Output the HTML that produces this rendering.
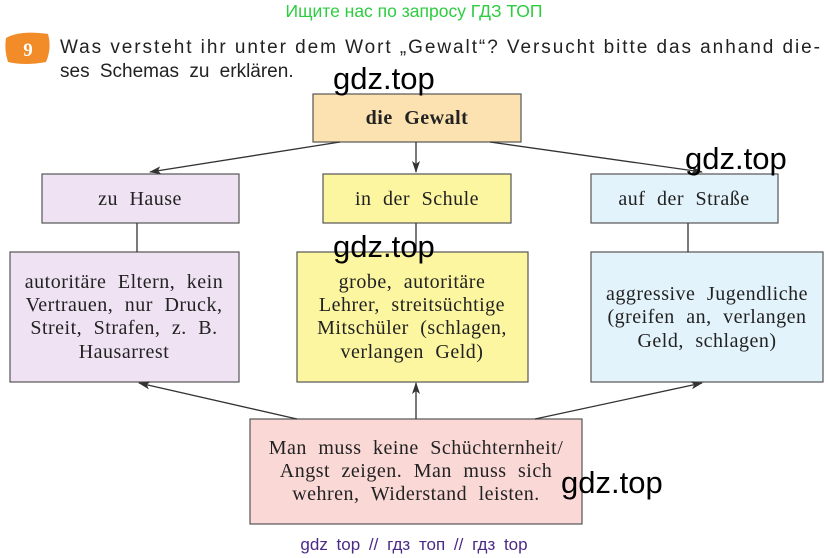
<!DOCTYPE html>
<html><head><meta charset="utf-8"><style>
body{margin:0;background:#fff;width:828px;height:558px;overflow:hidden}
svg{display:block}
.s{font-family:"Liberation Serif",serif;font-size:20px;fill:#222}
.a{font-family:"Liberation Sans",sans-serif;font-size:19px;fill:#222}
.w{font-family:"Liberation Sans",sans-serif;font-size:31px;fill:#000}
</style></head><body>
<svg width="828" height="558" viewBox="0 0 828 558">
<defs><marker id="m" markerWidth="12" markerHeight="8" refX="11" refY="4" orient="auto" markerUnits="userSpaceOnUse"><path d="M0,0 L12,4 L0,8 L3,4z" fill="#333"/></marker></defs>
<text x="414" y="17" text-anchor="middle" font-family="Liberation Sans,sans-serif" font-size="17.5" fill="#2ecc40">Ищите нас по запросу ГДЗ ТОП</text>
<path d="M6,38 Q20,30 48,34 Q52,48 46,62 Q25,66 8,62 Q4,50 6,38z" fill="#f28c28"/>
<text x="28" y="56" text-anchor="middle" font-family="Liberation Serif,serif" font-weight="bold" font-size="19" fill="#fff">9</text>
<text x="60" y="53" class="a" textLength="760" lengthAdjust="spacing">Was versteht ihr unter dem Wort „Gewalt“? Versucht bitte das anhand die-</text>
<text x="60" y="77" class="a" word-spacing="5">ses Schemas zu erklären.</text>
<g stroke="#555" stroke-width="1.2">
<rect x="313" y="94" width="208" height="48" fill="#fce2b0"/>
<rect x="42" y="174" width="197" height="49" fill="#efe3f3"/>
<rect x="323" y="174" width="188" height="49" fill="#fcf6a0"/>
<rect x="591" y="174" width="187" height="49" fill="#e3f3fb"/>
<rect x="10" y="252" width="229" height="130" fill="#efe3f3"/>
<rect x="297" y="252" width="231" height="130" fill="#fcf6a0"/>
<rect x="591" y="252" width="232" height="130" fill="#e3f3fb"/>
<rect x="250" y="419" width="332" height="105" fill="#f9d8d6"/>
</g>
<g stroke="#333" stroke-width="1.3" fill="none">
<line x1="340" y1="142" x2="150" y2="172" marker-end="url(#m)"/>
<line x1="416" y1="142" x2="416" y2="172" marker-end="url(#m)"/>
<line x1="490" y1="142" x2="702" y2="172" marker-end="url(#m)"/>
<line x1="137" y1="223" x2="137" y2="252"/>
<line x1="416" y1="223" x2="416" y2="252"/>
<line x1="688" y1="223" x2="688" y2="252"/>
<line x1="297" y1="419" x2="139" y2="383" marker-end="url(#m)"/>
<line x1="416" y1="419" x2="416" y2="383" marker-end="url(#m)"/>
<line x1="535" y1="419" x2="702" y2="383" marker-end="url(#m)"/>
</g>
<g class="s" text-anchor="middle" word-spacing="6" letter-spacing="0.5">
<text x="417" y="124" font-weight="bold">die Gewalt</text>
<text x="140" y="205">zu Hause</text>
<text x="417" y="205">in der Schule</text>
<text x="684" y="205">auf der Straße</text>
<text x="124" y="288">autoritäre Eltern, kein</text>
<text x="124" y="311">Vertrauen, nur Druck,</text>
<text x="124" y="334">Streit, Strafen, z. B.</text>
<text x="124" y="358">Hausarrest</text>
<text x="412" y="288">grobe, autoritäre</text>
<text x="412" y="311">Lehrer, streitsüchtige</text>
<text x="412" y="334">Mitschüler (schlagen,</text>
<text x="412" y="358">verlangen Geld)</text>
<text x="707" y="300">aggressive Jugendliche</text>
<text x="707" y="323">(greifen an, verlangen</text>
<text x="707" y="347">Geld, schlagen)</text>
<text x="416" y="454">Man muss keine Schüchternheit/</text>
<text x="416" y="477">Angst zeigen. Man muss sich</text>
<text x="416" y="500">wehren, Widerstand leisten.</text>
</g>
<text x="333" y="89" class="w">gdz.top</text>
<text x="685" y="169" class="w">gdz.top</text>
<text x="333" y="257" class="w">gdz.top</text>
<text x="561" y="493" class="w">gdz.top</text>
<text x="414" y="550" text-anchor="middle" font-family="Liberation Sans,sans-serif" font-size="17" fill="#4b2a86" word-spacing="4">gdz top  //  гдз топ  //  гдз top</text>
</svg>
</body></html>
